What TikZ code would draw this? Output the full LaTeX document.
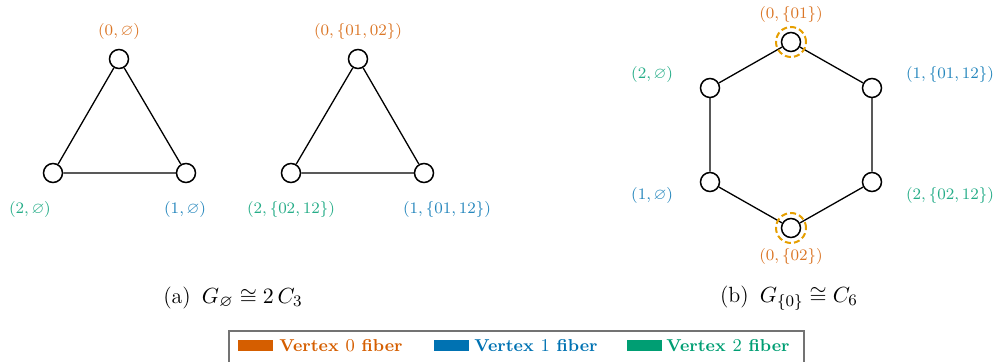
\documentclass[tikz,border=0pt]{standalone}
\usepackage{amsmath,amssymb}
\definecolor{vzero}{HTML}{D55E00}
\definecolor{vone}{HTML}{0072B2}
\definecolor{vtwo}{HTML}{009E73}
\definecolor{hl}{HTML}{E69F00}
\begin{document}
\begin{tikzpicture}[x=0.5pt,y=-0.5pt,
  vtx/.style={circle,draw=black,fill=white,line width=0.75pt,minimum size=9.5pt,inner sep=0pt},
  edge/.style={line width=0.65pt},
  lab/.style={font=\footnotesize,inner sep=0pt},
  lzero/.style={lab,text=vzero!85},
  lone/.style={lab,text=vone!85},
  ltwo/.style={lab,text=vtwo!85},
  hlc/.style={circle,draw=hl,dashed,dash pattern=on 3pt off 1.6pt,line width=1pt,minimum size=15pt,inner sep=0pt},
  swatch/.style={rectangle,minimum width=17.5pt,minimum height=5.5pt,inner sep=0pt},
  captxt/.style={font=\fontsize{11}{13}\selectfont,inner sep=0pt},
  legtxt/.style={anchor=west,font=\fontsize{8.6}{10}\selectfont\bfseries,inner sep=0pt}]
\clip (0,0) rectangle (1001,362);
% triangle 1
\node[vtx] (a0) at (119,59) {};
\node[vtx] (a2) at (53,173) {};
\node[vtx] (a1) at (186,173) {};
\draw[edge] (a0) -- (a1) -- (a2) -- (a0);
\node[lzero] (la0) at (119,32) {$(0,\varnothing)$};
\node[ltwo] (la2) at (30,210) {$(2,\varnothing)$};
\node[lone] (la1) at (185,210) {$(1,\varnothing)$};
% triangle 2
\node[vtx] (b0) at (358,59) {};
\node[vtx] (b2) at (291,173) {};
\node[vtx] (b1) at (424,173) {};
\draw[edge] (b0) -- (b1) -- (b2) -- (b0);
\node[lzero] (lb0) at (358,32) {$(0,\{01,02\})$};
\node[ltwo] (lb2) at (291,210) {$(2,\{02,12\})$};
\node[lone] (lb1) at (447,210) {$(1,\{01,12\})$};
% hexagon
\node[vtx] (h0) at (791,42) {};
\node[vtx] (h1) at (872,88) {};
\node[vtx] (h2) at (872,182) {};
\node[vtx] (h3) at (791,228) {};
\node[vtx] (h4) at (710,182) {};
\node[vtx] (h5) at (710,88) {};
\draw[edge] (h0) -- (h1) -- (h2) -- (h3) -- (h4) -- (h5) -- (h0);
\node[hlc] (c0) at (h0) {};
\node[hlc] (c3) at (h3) {};
\node[lzero] (lh0) at (791,15) {$(0,\{01\})$};
\node[lone] (lh1) at (950,75) {$(1,\{01,12\})$};
\node[ltwo] (lh2) at (950,196) {$(2,\{02,12\})$};
\node[lzero] (lh3) at (791,257) {$(0,\{02\})$};
\node[lone] (lh4) at (652,196) {$(1,\varnothing)$};
\node[ltwo] (lh5) at (652,75) {$(2,\varnothing)$};
% captions
\node[captxt] (capa) at (233,298) {(a)\enspace $G_{\varnothing}\cong 2\,C_3$};
\node[captxt] (capb) at (789,298) {(b)\enspace $G_{\{0\}}\cong C_6$};
% legend
\draw[draw=black!55,line width=0.7pt] (229,331) rectangle (804,380);
\node[swatch,fill=vzero] (s0) at (255,346) {};
\node[legtxt,text=vzero] (t0) at (279,346) {Vertex $0$ fiber};
\node[swatch,fill=vone] (s1) at (451,346) {};
\node[legtxt,text=vone] (t1) at (474,346) {Vertex $1$ fiber};
\node[swatch,fill=vtwo] (s2) at (644,346) {};
\node[legtxt,text=vtwo] (t2) at (666,346) {Vertex $2$ fiber};
\end{tikzpicture}
\end{document}
